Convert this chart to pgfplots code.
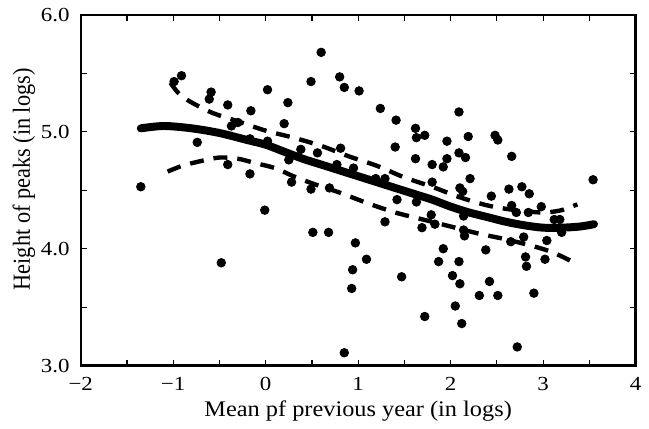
\documentclass[border=0pt]{standalone}
\usepackage{pgfplots}
\pgfplotsset{compat=1.18}
\usepackage{fontspec}
\setmainfont{Liberation Serif}

\pgfplotstableread{
x y
-1.35 4.53
-0.91 5.48
-0.99 5.43
0.60 5.68
-0.59 5.34
-0.61 5.28
-0.41 5.23
-0.16 5.18
0.02 5.36
0.24 5.25
0.49 5.43
0.20 5.07
-0.30 5.08
-0.37 5.05
-0.74 4.91
-0.17 4.94
0.02 4.92
0.38 4.85
0.56 4.82
0.25 4.76
-0.41 4.72
-0.17 4.64
0.28 4.57
0.49 4.51
-0.01 4.33
-0.48 3.88
0.51 4.14
0.68 4.14
0.97 4.05
1.09 3.91
0.94 3.82
0.93 3.66
0.85 3.11
1.47 3.76
1.29 4.23
1.69 4.18
1.72 3.42
1.92 4.00
1.87 3.89
2.09 3.89
2.02 3.77
2.10 3.70
2.05 3.51
2.12 3.36
2.38 3.99
2.42 3.72
2.31 3.60
2.51 3.60
2.72 3.16
2.81 3.93
2.82 3.85
2.90 3.62
3.02 3.91
3.04 4.07
2.79 4.10
3.20 4.14
2.15 4.11
2.14 4.16
1.83 4.21
1.79 4.29
2.66 4.37
2.71 4.31
2.84 4.31
2.98 4.36
3.12 4.25
3.18 4.25
0.80 5.47
0.85 5.38
1.01 5.35
1.24 5.20
1.41 5.10
1.40 4.87
1.62 5.03
1.63 4.95
1.72 4.97
2.09 5.17
2.19 4.96
1.96 4.92
1.96 4.77
1.92 4.70
1.80 4.72
1.62 4.77
2.09 4.82
2.16 4.78
2.48 4.97
2.51 4.93
2.66 4.79
2.21 4.60
2.10 4.52
2.13 4.49
1.80 4.57
2.44 4.45
2.63 4.51
2.77 4.53
2.85 4.47
3.54 4.59
1.19 4.60
1.29 4.60
0.95 4.69
0.77 4.72
0.81 4.86
1.42 4.42
1.63 4.40
0.69 4.52
2.14 4.28
2.65 4.06
}\peakdata

\pgfplotstableread{
x y
-1.35 5.03
-1.1 5.05
-0.8 5.03
-0.5 4.99
-0.2 4.93
0.0 4.89
0.2 4.83
0.4 4.77
0.6 4.72
0.8 4.67
1.0 4.62
1.2 4.57
1.4 4.52
1.6 4.47
1.8 4.42
2.0 4.36
2.2 4.31
2.4 4.27
2.6 4.23
2.8 4.20
3.0 4.18
3.2 4.18
3.4 4.19
3.55 4.21
}\fitline

\pgfplotstableread{
x y
-1.03 5.42
-0.9 5.30
-0.6 5.17
-0.3 5.09
0.0 5.01
0.3 4.95
0.6 4.88
0.9 4.79
1.2 4.71
1.5 4.61
1.8 4.53
2.1 4.44
2.4 4.37
2.7 4.33
3.0 4.31
3.2 4.33
3.37 4.38
}\upband

\pgfplotstableread{
x y
-1.06 4.66
-0.9 4.71
-0.7 4.75
-0.5 4.78
-0.3 4.77
-0.1 4.73
0.1 4.69
0.3 4.62
0.5 4.56
0.8 4.48
1.1 4.39
1.4 4.31
1.7 4.25
2.0 4.19
2.3 4.13
2.6 4.08
2.9 4.02
3.1 3.97
3.29 3.90
}\lowband

\begin{document}
\begin{tikzpicture}[font=\fontsize{11.2}{13.4}\selectfont]
\begin{axis}[
    scale only axis,
    width=278.5pt, height=176pt,
    xmin=-2, xmax=4, ymin=3, ymax=6,
    xtick={-2,-1,0,1,2,3,4},
    xticklabels={−2,−1,0,1,2,3,4},
    ytick={3,4,5,6},
    yticklabels={3.0,4.0,5.0,6.0},
    minor xtick={-1.5,-0.5,0.5,1.5,2.5,3.5},
    minor ytick={3.5,4.5,5.5},
    tick align=inside,
    major tick length=3pt, minor tick length=3pt,
    tick style={black, line width=0.6pt},
    axis line style={line width=1.2pt},
    tick label style={font=\fontsize{10}{12}\selectfont, xscale=1.15},
    xticklabel style={yshift=-2.2pt},
    yticklabel style={xshift=-1.3pt},
    xlabel={Mean pf previous year (in logs)},
    ylabel={Height of peaks (in logs)},
    every axis x label/.style={at={([yshift=-17.2pt]axis description cs:0.5,0)}, anchor=north, inner sep=0pt, xscale=1.09},
    every axis y label/.style={at={([xshift=-28.5pt,yshift=5.5pt]axis description cs:0,0.5)}, anchor=center, rotate=90, yscale=1.1, inner sep=0pt},
    clip=false,
]
\addplot[only marks, mark=*, mark size=2.15pt, black] table {\peakdata};
\addplot[black, line width=4pt, smooth, line cap=round] table {\fitline};
\addplot[black, line width=2.2pt, smooth, dash pattern=on 7pt off 5pt] table {\upband};
\addplot[black, line width=2.2pt, smooth, dash pattern=on 7pt off 5pt] table {\lowband};
\coordinate (bbsw) at (rel axis cs:0,0);
\coordinate (bbne) at (rel axis cs:1,1);
\end{axis}
\path ([shift={(-40.5pt,-31.5pt)}]bbsw) rectangle ([shift={(5.5pt,7.5pt)}]bbne);
\end{tikzpicture}
\end{document}
